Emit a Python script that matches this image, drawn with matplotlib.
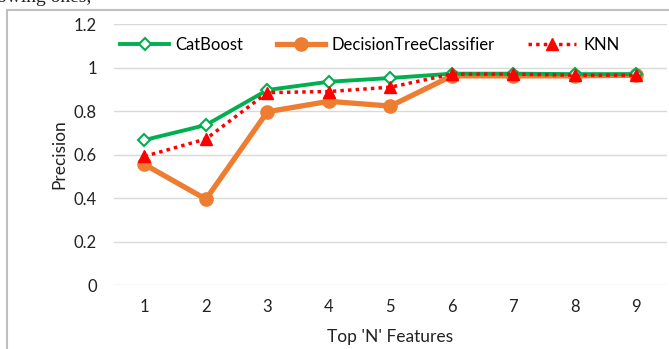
import matplotlib.pyplot as plt
from matplotlib.patches import Rectangle

features = [1, 2, 3, 4, 5, 6, 7, 8, 9]
catboost = [0.667, 0.736, 0.897, 0.935, 0.952, 0.972, 0.972, 0.970, 0.970]
dtc = [0.555, 0.395, 0.797, 0.845, 0.823, 0.962, 0.962, 0.962, 0.965]
knn = [0.592, 0.672, 0.885, 0.890, 0.910, 0.970, 0.970, 0.965, 0.965]
yticks = [0, 0.2, 0.4, 0.6, 0.8, 1, 1.2]
ytick_labels = ["0", "0.2", "0.4", "0.6", "0.8", "1", "1.2"]

plt.rcParams['font.family'] = ['Lato', 'DejaVu Sans']

fig = plt.figure(figsize=(6.69, 3.49), dpi=100)
ax = fig.add_axes([0.170, 0.183, 0.827, 0.748])

# cut-off text from the page above and the chart frame
fig.text(-0.005, 1 - 2 / 349, "owing ones,", family='Liberation Serif', fontsize=14,
         va='baseline', color='#222222')
fig.patches.append(Rectangle((7 / 669, -0.05), 1.0, 1 - 10 / 349 + 0.05,
                             transform=fig.transFigure, fill=False,
                             edgecolor='#c0c0c0', linewidth=1.5))

ax.plot(features, catboost, color='#00b050', lw=2.8, marker='D', ms=6,
        mfc='white', mec='#00b050', mew=1.5, label='CatBoost', zorder=3)
ax.plot(features, dtc, color='#ed7d31', lw=3.8, marker='o', ms=9.5,
        label='DecisionTreeClassifier', zorder=2)
ax.plot(features, knn, color='#ff0000', lw=2.5, ls=(0, (1, 1.2)), marker='^', ms=9,
        label='KNN', zorder=4)

ax.set_xlim(0.5, 9.5)
ax.set_ylim(0, 1.2)
ax.set_yticks(yticks)
ax.set_yticklabels(ytick_labels)
ax.set_xticks(features)
ax.grid(axis='y', color='#d9d9d9', lw=1)
ax.set_axisbelow(True)
for s in ax.spines.values():
    s.set_visible(False)
ax.tick_params(length=0, labelsize=12, colors='#222222')
ax.tick_params(axis='y', pad=12)
ax.tick_params(axis='x', pad=10)
ax.set_xlabel("Top 'N' Features", fontsize=12.5, color='#222222', labelpad=10)
ax.set_ylabel("Precision", fontsize=12.5, color='#222222', labelpad=5)

ax.legend(loc='center left', bbox_to_anchor=(0.0, 0.92), ncol=3, frameon=False,
          fontsize=12, handlelength=2.9, columnspacing=2.0, handletextpad=0.4,
          borderaxespad=0)

fig.savefig('out.png', dpi=100)
